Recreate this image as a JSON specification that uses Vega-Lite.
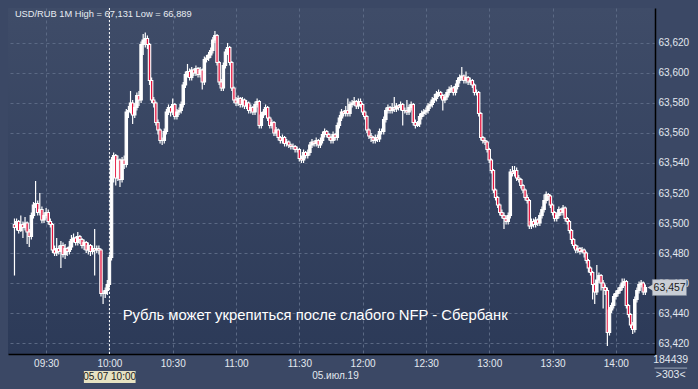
{
"$schema":"https://vega.github.io/schema/vega-lite/v6.json",
"width":647,"height":346,"autosize":"none",
"padding":{"left":8,"top":8,"right":43,"bottom":35},
"background":"#3b4865",
"config":{"view":{"stroke":null,"fill":{"gradient":"linear","x1":0,"y1":0,"x2":0,"y2":1,"stops":[{"offset":0,"color":"#3f4c68"},{"offset":1,"color":"#2c3a58"}]}},
"font":"Liberation Sans",
"axis":{"labelFont":"Liberation Sans","labelFontSize":10,"labelColor":"#e3e8f0","labelOverlap":false,"labelSeparation":0,"ticks":false,"domainColor":"#000000","domainWidth":1.5,"gridColor":"#5b6984","gridDash":[3,3],"gridWidth":1,"title":null}},
"datasets":{"candles":[
{"m":555,"o":63.499,"h":63.503,"l":63.465,"c":63.497},
{"m":556,"o":63.497,"h":63.503,"l":63.495,"c":63.501},
{"m":557,"o":63.501,"h":63.502,"l":63.493,"c":63.495},
{"m":558,"o":63.495,"h":63.505,"l":63.494,"c":63.499},
{"m":559,"o":63.499,"h":63.501,"l":63.490,"c":63.497},
{"m":560,"o":63.497,"h":63.504,"l":63.495,"c":63.500},
{"m":561,"o":63.500,"h":63.501,"l":63.486,"c":63.494},
{"m":562,"o":63.494,"h":63.496,"l":63.484,"c":63.491},
{"m":563,"o":63.491,"h":63.507,"l":63.489,"c":63.505},
{"m":564,"o":63.505,"h":63.514,"l":63.503,"c":63.512},
{"m":565,"o":63.512,"h":63.528,"l":63.510,"c":63.513},
{"m":566,"o":63.513,"h":63.515,"l":63.505,"c":63.507},
{"m":567,"o":63.507,"h":63.520,"l":63.505,"c":63.509},
{"m":568,"o":63.509,"h":63.511,"l":63.500,"c":63.502},
{"m":569,"o":63.502,"h":63.507,"l":63.500,"c":63.505},
{"m":570,"o":63.505,"h":63.510,"l":63.503,"c":63.507},
{"m":571,"o":63.507,"h":63.509,"l":63.499,"c":63.501},
{"m":572,"o":63.501,"h":63.503,"l":63.497,"c":63.499},
{"m":573,"o":63.499,"h":63.500,"l":63.480,"c":63.482},
{"m":574,"o":63.482,"h":63.485,"l":63.478,"c":63.480},
{"m":575,"o":63.480,"h":63.490,"l":63.478,"c":63.483},
{"m":576,"o":63.483,"h":63.485,"l":63.479,"c":63.481},
{"m":577,"o":63.481,"h":63.488,"l":63.470,"c":63.485},
{"m":578,"o":63.485,"h":63.487,"l":63.477,"c":63.479},
{"m":579,"o":63.479,"h":63.486,"l":63.476,"c":63.483},
{"m":580,"o":63.483,"h":63.484,"l":63.478,"c":63.481},
{"m":581,"o":63.481,"h":63.488,"l":63.479,"c":63.484},
{"m":582,"o":63.484,"h":63.492,"l":63.482,"c":63.489},
{"m":583,"o":63.489,"h":63.493,"l":63.487,"c":63.490},
{"m":584,"o":63.490,"h":63.491,"l":63.485,"c":63.487},
{"m":585,"o":63.487,"h":63.494,"l":63.485,"c":63.491},
{"m":586,"o":63.491,"h":63.492,"l":63.486,"c":63.489},
{"m":587,"o":63.489,"h":63.490,"l":63.483,"c":63.485},
{"m":588,"o":63.485,"h":63.489,"l":63.482,"c":63.487},
{"m":589,"o":63.487,"h":63.488,"l":63.480,"c":63.482},
{"m":590,"o":63.482,"h":63.487,"l":63.479,"c":63.485},
{"m":591,"o":63.485,"h":63.486,"l":63.478,"c":63.481},
{"m":592,"o":63.481,"h":63.485,"l":63.479,"c":63.483},
{"m":593,"o":63.483,"h":63.496,"l":63.465,"c":63.482},
{"m":594,"o":63.482,"h":63.485,"l":63.480,"c":63.483},
{"m":595,"o":63.483,"h":63.485,"l":63.479,"c":63.482},
{"m":596,"o":63.482,"h":63.483,"l":63.451,"c":63.453},
{"m":597,"o":63.453,"h":63.455,"l":63.446,"c":63.453},
{"m":598,"o":63.453,"h":63.457,"l":63.450,"c":63.455},
{"m":599,"o":63.455,"h":63.462,"l":63.452,"c":63.459},
{"m":600,"o":63.459,"h":63.479,"l":63.457,"c":63.477},
{"m":601,"o":63.477,"h":63.544,"l":63.475,"c":63.542},
{"m":602,"o":63.542,"h":63.547,"l":63.527,"c":63.545},
{"m":603,"o":63.545,"h":63.546,"l":63.525,"c":63.530},
{"m":604,"o":63.530,"h":63.545,"l":63.528,"c":63.542},
{"m":605,"o":63.542,"h":63.543,"l":63.524,"c":63.529},
{"m":606,"o":63.529,"h":63.544,"l":63.527,"c":63.542},
{"m":607,"o":63.542,"h":63.545,"l":63.536,"c":63.539},
{"m":608,"o":63.539,"h":63.576,"l":63.537,"c":63.574},
{"m":609,"o":63.574,"h":63.578,"l":63.570,"c":63.575},
{"m":610,"o":63.575,"h":63.588,"l":63.573,"c":63.580},
{"m":611,"o":63.580,"h":63.582,"l":63.566,"c":63.572},
{"m":612,"o":63.572,"h":63.580,"l":63.570,"c":63.577},
{"m":613,"o":63.577,"h":63.587,"l":63.575,"c":63.585},
{"m":614,"o":63.585,"h":63.588,"l":63.578,"c":63.582},
{"m":615,"o":63.582,"h":63.621,"l":63.580,"c":63.619},
{"m":616,"o":63.619,"h":63.626,"l":63.612,"c":63.622},
{"m":617,"o":63.622,"h":63.627,"l":63.617,"c":63.623},
{"m":618,"o":63.623,"h":63.625,"l":63.616,"c":63.619},
{"m":619,"o":63.619,"h":63.620,"l":63.592,"c":63.595},
{"m":620,"o":63.595,"h":63.597,"l":63.580,"c":63.582},
{"m":621,"o":63.582,"h":63.584,"l":63.577,"c":63.580},
{"m":622,"o":63.580,"h":63.581,"l":63.565,"c":63.567},
{"m":623,"o":63.567,"h":63.569,"l":63.559,"c":63.562},
{"m":624,"o":63.562,"h":63.563,"l":63.553,"c":63.555},
{"m":625,"o":63.555,"h":63.557,"l":63.552,"c":63.555},
{"m":626,"o":63.555,"h":63.563,"l":63.553,"c":63.561},
{"m":627,"o":63.561,"h":63.576,"l":63.559,"c":63.574},
{"m":628,"o":63.574,"h":63.579,"l":63.572,"c":63.577},
{"m":629,"o":63.577,"h":63.578,"l":63.571,"c":63.574},
{"m":630,"o":63.574,"h":63.583,"l":63.572,"c":63.579},
{"m":631,"o":63.579,"h":63.580,"l":63.569,"c":63.571},
{"m":632,"o":63.571,"h":63.576,"l":63.569,"c":63.574},
{"m":633,"o":63.574,"h":63.577,"l":63.572,"c":63.575},
{"m":634,"o":63.575,"h":63.581,"l":63.573,"c":63.579},
{"m":635,"o":63.579,"h":63.594,"l":63.577,"c":63.592},
{"m":636,"o":63.592,"h":63.601,"l":63.590,"c":63.599},
{"m":637,"o":63.599,"h":63.606,"l":63.597,"c":63.601},
{"m":638,"o":63.601,"h":63.603,"l":63.595,"c":63.597},
{"m":639,"o":63.597,"h":63.604,"l":63.595,"c":63.602},
{"m":640,"o":63.602,"h":63.603,"l":63.598,"c":63.600},
{"m":641,"o":63.600,"h":63.605,"l":63.598,"c":63.603},
{"m":642,"o":63.603,"h":63.604,"l":63.597,"c":63.599},
{"m":643,"o":63.599,"h":63.604,"l":63.597,"c":63.602},
{"m":644,"o":63.602,"h":63.603,"l":63.589,"c":63.594},
{"m":645,"o":63.594,"h":63.611,"l":63.592,"c":63.609},
{"m":646,"o":63.609,"h":63.612,"l":63.607,"c":63.610},
{"m":647,"o":63.610,"h":63.614,"l":63.608,"c":63.612},
{"m":648,"o":63.612,"h":63.617,"l":63.610,"c":63.615},
{"m":649,"o":63.615,"h":63.624,"l":63.613,"c":63.622},
{"m":650,"o":63.622,"h":63.628,"l":63.620,"c":63.625},
{"m":651,"o":63.625,"h":63.626,"l":63.605,"c":63.607},
{"m":652,"o":63.607,"h":63.608,"l":63.592,"c":63.594},
{"m":653,"o":63.594,"h":63.596,"l":63.588,"c":63.590},
{"m":654,"o":63.590,"h":63.607,"l":63.588,"c":63.605},
{"m":655,"o":63.605,"h":63.616,"l":63.603,"c":63.614},
{"m":656,"o":63.614,"h":63.620,"l":63.612,"c":63.617},
{"m":657,"o":63.617,"h":63.618,"l":63.605,"c":63.607},
{"m":658,"o":63.607,"h":63.608,"l":63.588,"c":63.590},
{"m":659,"o":63.590,"h":63.591,"l":63.580,"c":63.582},
{"m":660,"o":63.582,"h":63.584,"l":63.578,"c":63.580},
{"m":661,"o":63.580,"h":63.585,"l":63.578,"c":63.583},
{"m":662,"o":63.583,"h":63.584,"l":63.577,"c":63.579},
{"m":663,"o":63.579,"h":63.584,"l":63.577,"c":63.582},
{"m":664,"o":63.582,"h":63.583,"l":63.576,"c":63.578},
{"m":665,"o":63.578,"h":63.582,"l":63.576,"c":63.580},
{"m":666,"o":63.580,"h":63.581,"l":63.573,"c":63.575},
{"m":667,"o":63.575,"h":63.579,"l":63.573,"c":63.577},
{"m":668,"o":63.577,"h":63.578,"l":63.572,"c":63.574},
{"m":669,"o":63.574,"h":63.581,"l":63.572,"c":63.579},
{"m":670,"o":63.579,"h":63.583,"l":63.577,"c":63.581},
{"m":671,"o":63.581,"h":63.582,"l":63.563,"c":63.565},
{"m":672,"o":63.565,"h":63.574,"l":63.563,"c":63.572},
{"m":673,"o":63.572,"h":63.576,"l":63.570,"c":63.574},
{"m":674,"o":63.574,"h":63.579,"l":63.572,"c":63.577},
{"m":675,"o":63.577,"h":63.578,"l":63.568,"c":63.570},
{"m":676,"o":63.570,"h":63.571,"l":63.563,"c":63.565},
{"m":677,"o":63.565,"h":63.569,"l":63.563,"c":63.567},
{"m":678,"o":63.567,"h":63.568,"l":63.558,"c":63.560},
{"m":679,"o":63.560,"h":63.564,"l":63.558,"c":63.562},
{"m":680,"o":63.562,"h":63.563,"l":63.555,"c":63.557},
{"m":681,"o":63.557,"h":63.558,"l":63.553,"c":63.555},
{"m":682,"o":63.555,"h":63.559,"l":63.553,"c":63.557},
{"m":683,"o":63.557,"h":63.558,"l":63.551,"c":63.553},
{"m":684,"o":63.553,"h":63.556,"l":63.551,"c":63.554},
{"m":685,"o":63.554,"h":63.555,"l":63.550,"c":63.552},
{"m":686,"o":63.552,"h":63.553,"l":63.549,"c":63.551},
{"m":687,"o":63.551,"h":63.553,"l":63.549,"c":63.551},
{"m":688,"o":63.551,"h":63.552,"l":63.547,"c":63.549},
{"m":689,"o":63.549,"h":63.551,"l":63.547,"c":63.549},
{"m":690,"o":63.549,"h":63.550,"l":63.541,"c":63.543},
{"m":691,"o":63.543,"h":63.545,"l":63.540,"c":63.542},
{"m":692,"o":63.542,"h":63.549,"l":63.540,"c":63.547},
{"m":693,"o":63.547,"h":63.548,"l":63.543,"c":63.545},
{"m":694,"o":63.545,"h":63.549,"l":63.543,"c":63.547},
{"m":695,"o":63.547,"h":63.554,"l":63.545,"c":63.552},
{"m":696,"o":63.552,"h":63.556,"l":63.550,"c":63.554},
{"m":697,"o":63.554,"h":63.555,"l":63.551,"c":63.553},
{"m":698,"o":63.553,"h":63.557,"l":63.551,"c":63.555},
{"m":699,"o":63.555,"h":63.556,"l":63.550,"c":63.552},
{"m":700,"o":63.552,"h":63.557,"l":63.550,"c":63.555},
{"m":701,"o":63.555,"h":63.561,"l":63.553,"c":63.559},
{"m":702,"o":63.559,"h":63.563,"l":63.557,"c":63.561},
{"m":703,"o":63.561,"h":63.562,"l":63.557,"c":63.559},
{"m":704,"o":63.559,"h":63.560,"l":63.555,"c":63.557},
{"m":705,"o":63.557,"h":63.558,"l":63.553,"c":63.555},
{"m":706,"o":63.555,"h":63.561,"l":63.553,"c":63.559},
{"m":707,"o":63.559,"h":63.560,"l":63.555,"c":63.557},
{"m":708,"o":63.557,"h":63.567,"l":63.555,"c":63.565},
{"m":709,"o":63.565,"h":63.572,"l":63.563,"c":63.570},
{"m":710,"o":63.570,"h":63.576,"l":63.568,"c":63.574},
{"m":711,"o":63.574,"h":63.575,"l":63.571,"c":63.573},
{"m":712,"o":63.573,"h":63.578,"l":63.571,"c":63.575},
{"m":713,"o":63.575,"h":63.583,"l":63.571,"c":63.573},
{"m":714,"o":63.573,"h":63.581,"l":63.571,"c":63.579},
{"m":715,"o":63.579,"h":63.582,"l":63.577,"c":63.580},
{"m":716,"o":63.580,"h":63.584,"l":63.578,"c":63.581},
{"m":717,"o":63.581,"h":63.582,"l":63.576,"c":63.578},
{"m":718,"o":63.578,"h":63.583,"l":63.576,"c":63.581},
{"m":719,"o":63.581,"h":63.583,"l":63.577,"c":63.579},
{"m":720,"o":63.579,"h":63.580,"l":63.572,"c":63.574},
{"m":721,"o":63.574,"h":63.575,"l":63.569,"c":63.571},
{"m":722,"o":63.571,"h":63.572,"l":63.560,"c":63.562},
{"m":723,"o":63.562,"h":63.563,"l":63.556,"c":63.558},
{"m":724,"o":63.558,"h":63.560,"l":63.554,"c":63.557},
{"m":725,"o":63.557,"h":63.558,"l":63.553,"c":63.555},
{"m":726,"o":63.555,"h":63.559,"l":63.553,"c":63.557},
{"m":727,"o":63.557,"h":63.559,"l":63.554,"c":63.556},
{"m":728,"o":63.556,"h":63.563,"l":63.554,"c":63.561},
{"m":729,"o":63.561,"h":63.563,"l":63.559,"c":63.561},
{"m":730,"o":63.561,"h":63.571,"l":63.559,"c":63.569},
{"m":731,"o":63.569,"h":63.577,"l":63.567,"c":63.575},
{"m":732,"o":63.575,"h":63.579,"l":63.573,"c":63.577},
{"m":733,"o":63.577,"h":63.578,"l":63.573,"c":63.575},
{"m":734,"o":63.575,"h":63.580,"l":63.573,"c":63.577},
{"m":735,"o":63.577,"h":63.584,"l":63.574,"c":63.576},
{"m":736,"o":63.576,"h":63.580,"l":63.574,"c":63.578},
{"m":737,"o":63.578,"h":63.579,"l":63.575,"c":63.577},
{"m":738,"o":63.577,"h":63.581,"l":63.575,"c":63.579},
{"m":739,"o":63.579,"h":63.580,"l":63.565,"c":63.575},
{"m":740,"o":63.575,"h":63.577,"l":63.573,"c":63.575},
{"m":741,"o":63.575,"h":63.582,"l":63.572,"c":63.574},
{"m":742,"o":63.574,"h":63.579,"l":63.572,"c":63.577},
{"m":743,"o":63.577,"h":63.581,"l":63.575,"c":63.579},
{"m":744,"o":63.579,"h":63.580,"l":63.565,"c":63.567},
{"m":745,"o":63.567,"h":63.569,"l":63.563,"c":63.565},
{"m":746,"o":63.565,"h":63.568,"l":63.564,"c":63.566},
{"m":747,"o":63.566,"h":63.573,"l":63.564,"c":63.571},
{"m":748,"o":63.571,"h":63.575,"l":63.569,"c":63.573},
{"m":749,"o":63.573,"h":63.576,"l":63.571,"c":63.574},
{"m":750,"o":63.574,"h":63.577,"l":63.572,"c":63.575},
{"m":751,"o":63.575,"h":63.580,"l":63.573,"c":63.578},
{"m":752,"o":63.578,"h":63.581,"l":63.576,"c":63.579},
{"m":753,"o":63.579,"h":63.584,"l":63.577,"c":63.582},
{"m":754,"o":63.582,"h":63.586,"l":63.580,"c":63.583},
{"m":755,"o":63.583,"h":63.588,"l":63.581,"c":63.586},
{"m":756,"o":63.586,"h":63.589,"l":63.584,"c":63.587},
{"m":757,"o":63.587,"h":63.588,"l":63.583,"c":63.585},
{"m":758,"o":63.585,"h":63.586,"l":63.575,"c":63.582},
{"m":759,"o":63.582,"h":63.586,"l":63.580,"c":63.584},
{"m":760,"o":63.584,"h":63.589,"l":63.582,"c":63.587},
{"m":761,"o":63.587,"h":63.591,"l":63.585,"c":63.589},
{"m":762,"o":63.589,"h":63.592,"l":63.587,"c":63.590},
{"m":763,"o":63.590,"h":63.591,"l":63.585,"c":63.587},
{"m":764,"o":63.587,"h":63.593,"l":63.585,"c":63.591},
{"m":765,"o":63.591,"h":63.597,"l":63.589,"c":63.595},
{"m":766,"o":63.595,"h":63.599,"l":63.593,"c":63.597},
{"m":767,"o":63.597,"h":63.604,"l":63.595,"c":63.598},
{"m":768,"o":63.598,"h":63.599,"l":63.593,"c":63.595},
{"m":769,"o":63.595,"h":63.601,"l":63.593,"c":63.597},
{"m":770,"o":63.597,"h":63.598,"l":63.592,"c":63.594},
{"m":771,"o":63.594,"h":63.597,"l":63.592,"c":63.595},
{"m":772,"o":63.595,"h":63.596,"l":63.590,"c":63.592},
{"m":773,"o":63.592,"h":63.593,"l":63.585,"c":63.587},
{"m":774,"o":63.587,"h":63.589,"l":63.585,"c":63.587},
{"m":775,"o":63.587,"h":63.588,"l":63.571,"c":63.573},
{"m":776,"o":63.573,"h":63.574,"l":63.555,"c":63.557},
{"m":777,"o":63.557,"h":63.558,"l":63.553,"c":63.555},
{"m":778,"o":63.555,"h":63.557,"l":63.552,"c":63.554},
{"m":779,"o":63.554,"h":63.555,"l":63.547,"c":63.549},
{"m":780,"o":63.549,"h":63.550,"l":63.540,"c":63.542},
{"m":781,"o":63.542,"h":63.543,"l":63.533,"c":63.535},
{"m":782,"o":63.535,"h":63.536,"l":63.520,"c":63.522},
{"m":783,"o":63.522,"h":63.523,"l":63.515,"c":63.517},
{"m":784,"o":63.517,"h":63.518,"l":63.510,"c":63.512},
{"m":785,"o":63.512,"h":63.513,"l":63.505,"c":63.507},
{"m":786,"o":63.507,"h":63.509,"l":63.503,"c":63.505},
{"m":787,"o":63.505,"h":63.507,"l":63.496,"c":63.503},
{"m":788,"o":63.503,"h":63.505,"l":63.499,"c":63.501},
{"m":789,"o":63.501,"h":63.507,"l":63.499,"c":63.505},
{"m":790,"o":63.505,"h":63.536,"l":63.503,"c":63.534},
{"m":791,"o":63.534,"h":63.538,"l":63.531,"c":63.533},
{"m":792,"o":63.533,"h":63.538,"l":63.531,"c":63.535},
{"m":793,"o":63.535,"h":63.537,"l":63.528,"c":63.530},
{"m":794,"o":63.530,"h":63.532,"l":63.527,"c":63.529},
{"m":795,"o":63.529,"h":63.530,"l":63.523,"c":63.525},
{"m":796,"o":63.525,"h":63.526,"l":63.520,"c":63.522},
{"m":797,"o":63.522,"h":63.523,"l":63.515,"c":63.517},
{"m":798,"o":63.517,"h":63.519,"l":63.513,"c":63.515},
{"m":799,"o":63.515,"h":63.516,"l":63.496,"c":63.498},
{"m":800,"o":63.498,"h":63.503,"l":63.496,"c":63.501},
{"m":801,"o":63.501,"h":63.503,"l":63.497,"c":63.499},
{"m":802,"o":63.499,"h":63.504,"l":63.497,"c":63.502},
{"m":803,"o":63.502,"h":63.503,"l":63.498,"c":63.500},
{"m":804,"o":63.500,"h":63.507,"l":63.498,"c":63.505},
{"m":805,"o":63.505,"h":63.511,"l":63.503,"c":63.509},
{"m":806,"o":63.509,"h":63.519,"l":63.507,"c":63.515},
{"m":807,"o":63.515,"h":63.521,"l":63.513,"c":63.519},
{"m":808,"o":63.519,"h":63.520,"l":63.515,"c":63.518},
{"m":809,"o":63.518,"h":63.519,"l":63.510,"c":63.512},
{"m":810,"o":63.512,"h":63.513,"l":63.505,"c":63.507},
{"m":811,"o":63.507,"h":63.508,"l":63.501,"c":63.503},
{"m":812,"o":63.503,"h":63.507,"l":63.501,"c":63.505},
{"m":813,"o":63.505,"h":63.511,"l":63.503,"c":63.509},
{"m":814,"o":63.509,"h":63.510,"l":63.505,"c":63.507},
{"m":815,"o":63.507,"h":63.512,"l":63.505,"c":63.510},
{"m":816,"o":63.510,"h":63.511,"l":63.501,"c":63.503},
{"m":817,"o":63.503,"h":63.504,"l":63.499,"c":63.501},
{"m":818,"o":63.501,"h":63.502,"l":63.493,"c":63.495},
{"m":819,"o":63.495,"h":63.496,"l":63.486,"c":63.489},
{"m":820,"o":63.489,"h":63.490,"l":63.483,"c":63.485},
{"m":821,"o":63.485,"h":63.486,"l":63.480,"c":63.482},
{"m":822,"o":63.482,"h":63.485,"l":63.480,"c":63.483},
{"m":823,"o":63.483,"h":63.484,"l":63.479,"c":63.481},
{"m":824,"o":63.481,"h":63.484,"l":63.480,"c":63.482},
{"m":825,"o":63.482,"h":63.483,"l":63.477,"c":63.480},
{"m":826,"o":63.480,"h":63.481,"l":63.473,"c":63.475},
{"m":827,"o":63.475,"h":63.476,"l":63.467,"c":63.470},
{"m":828,"o":63.470,"h":63.471,"l":63.465,"c":63.467},
{"m":829,"o":63.467,"h":63.468,"l":63.449,"c":63.459},
{"m":830,"o":63.459,"h":63.460,"l":63.446,"c":63.454},
{"m":831,"o":63.454,"h":63.472,"l":63.452,"c":63.462},
{"m":832,"o":63.462,"h":63.467,"l":63.460,"c":63.465},
{"m":833,"o":63.465,"h":63.466,"l":63.455,"c":63.460},
{"m":834,"o":63.460,"h":63.462,"l":63.443,"c":63.457},
{"m":835,"o":63.457,"h":63.459,"l":63.452,"c":63.455},
{"m":836,"o":63.455,"h":63.457,"l":63.418,"c":63.427},
{"m":837,"o":63.427,"h":63.444,"l":63.425,"c":63.442},
{"m":838,"o":63.442,"h":63.447,"l":63.440,"c":63.445},
{"m":839,"o":63.445,"h":63.453,"l":63.443,"c":63.451},
{"m":840,"o":63.451,"h":63.455,"l":63.449,"c":63.453},
{"m":841,"o":63.453,"h":63.457,"l":63.451,"c":63.455},
{"m":842,"o":63.455,"h":63.459,"l":63.453,"c":63.457},
{"m":843,"o":63.457,"h":63.463,"l":63.455,"c":63.460},
{"m":844,"o":63.460,"h":63.463,"l":63.458,"c":63.461},
{"m":845,"o":63.461,"h":63.462,"l":63.443,"c":63.445},
{"m":846,"o":63.445,"h":63.446,"l":63.437,"c":63.439},
{"m":847,"o":63.439,"h":63.440,"l":63.430,"c":63.432},
{"m":848,"o":63.432,"h":63.434,"l":63.426,"c":63.429},
{"m":849,"o":63.429,"h":63.451,"l":63.427,"c":63.449},
{"m":850,"o":63.449,"h":63.457,"l":63.447,"c":63.455},
{"m":851,"o":63.455,"h":63.461,"l":63.453,"c":63.459},
{"m":852,"o":63.459,"h":63.462,"l":63.457,"c":63.460},
{"m":853,"o":63.460,"h":63.461,"l":63.452,"c":63.454},
{"m":854,"o":63.454,"h":63.459,"l":63.452,"c":63.457}
],
"cursor":[{"m":600}]},
"layer":[
{"data":{"name":"candles"},"mark":{"type":"rule","color":"#ffffff","strokeWidth":1.2},
"encoding":{
"x":{"field":"m","type":"quantitative","scale":{"domain":[554.3,856.2],"nice":false,"zero":false},
"axis":{"orient":"bottom","values":[570,600,630,660,690,720,750,780,810,840],"tickCount":20,"labelOverlap":false,"labelPadding":4,"labelExpr":"(floor(datum.value/60)<10?'0':'')+floor(datum.value/60)+':'+(datum.value%60<10?'0':'')+(datum.value%60)"}},
"y":{"field":"l","type":"quantitative","scale":{"domain":[63.4127,63.6433],"nice":false,"zero":false},
"axis":{"orient":"right","values":[63.42,63.44,63.46,63.48,63.5,63.52,63.54,63.56,63.58,63.6,63.62],"tickCount":20,"labelOverlap":false,"labelAlign":"left","labelBaseline":"middle","labelPadding":3,"labelExpr":"replace(format(datum.value,'.3f'),'.',',')"}},
"y2":{"field":"h"}}},
{"data":{"name":"candles"},"mark":{"type":"bar","size":2.4,"stroke":"#ffffff","strokeWidth":1.1},
"encoding":{
"x":{"field":"m","type":"quantitative"},
"y":{"field":"o","type":"quantitative"},
"y2":{"field":"c"},
"color":{"condition":{"test":"datum.c < datum.o","value":"#e4123c"},"value":"#ffffff"}}},
{"data":{"name":"cursor"},"mark":{"type":"rule","color":"#ffffff","strokeDash":[2,2],"strokeWidth":1},
"encoding":{"x":{"field":"m","type":"quantitative"}}},
{"data":{"values":[{}]},"mark":{"type":"text","align":"left","baseline":"middle","fontSize":9.3,"color":"#e8ecf2","font":"Liberation Sans"},
"encoding":{"x":{"datum":555.2},"y":{"datum":63.6394},"text":{"value":"USD/RUB 1M High = 67,131 Low = 66,889"}}},
{"data":{"values":[{}]},"mark":{"type":"text","align":"center","baseline":"middle","fontSize":14.8,"color":"#ffffff","font":"Liberation Sans"},
"encoding":{"x":{"datum":697.5},"y":{"datum":63.438},"text":{"value":"Рубль может укрепиться после слабого NFP - Сбербанк"}}},
{"data":{"values":[{}]},"mark":{"type":"rect","color":"#c9ced6","stroke":"#7f8898","strokeWidth":0.5},
"encoding":{"x":{"datum":857.3},"x2":{"datum":873.5},"y":{"datum":63.4623},"y2":{"datum":63.4517}}},
{"data":{"values":[{}]},"mark":{"type":"point","shape":"triangle-left","filled":true,"size":45,"color":"#c9ced6","opacity":1},
"encoding":{"x":{"datum":856.4},"y":{"datum":63.457}}},
{"data":{"values":[{}]},"mark":{"type":"text","align":"left","baseline":"middle","fontSize":10.5,"color":"#1b1b1b","font":"Liberation Sans"},
"encoding":{"x":{"datum":857.9},"y":{"datum":63.457},"text":{"value":"63,457"}}},
{"data":{"values":[{}]},"mark":{"type":"rect","color":"#e6e2c2"},
"encoding":{"x":{"datum":587.9},"x2":{"datum":612.4},"y":{"datum":63.4013},"y2":{"datum":63.3933}}},
{"data":{"values":[{}]},"mark":{"type":"text","align":"center","baseline":"middle","fontSize":10,"color":"#1b1b1b","font":"Liberation Sans"},
"encoding":{"x":{"datum":600.1},"y":{"datum":63.3973},"text":{"value":"05.07 10:00"}}},
{"data":{"values":[{}]},"mark":{"type":"text","align":"left","baseline":"middle","fontSize":10,"color":"#e3e8f0","font":"Liberation Sans"},
"encoding":{"x":{"datum":696.1},"y":{"datum":63.3983},"text":{"value":"05.июл.19"}}},
{"data":{"values":[{}]},"mark":{"type":"text","align":"center","baseline":"middle","fontSize":10.5,"color":"#e3e8f0","font":"Liberation Sans"},
"encoding":{"x":{"datum":866},"y":{"datum":63.4084},"text":{"value":"184439"}}},
{"data":{"values":[{}]},"mark":{"type":"text","align":"center","baseline":"middle","fontSize":10.5,"color":"#e3e8f0","font":"Liberation Sans"},
"encoding":{"x":{"datum":866},"y":{"datum":63.3987},"text":{"value":">303<"}}},
{"data":{"values":[{}]},"mark":{"type":"rule","color":"#9aa5b8","strokeWidth":1},
"encoding":{"x":{"datum":858.3},"x2":{"datum":873.8},"y":{"datum":63.4033}}}
]
}
